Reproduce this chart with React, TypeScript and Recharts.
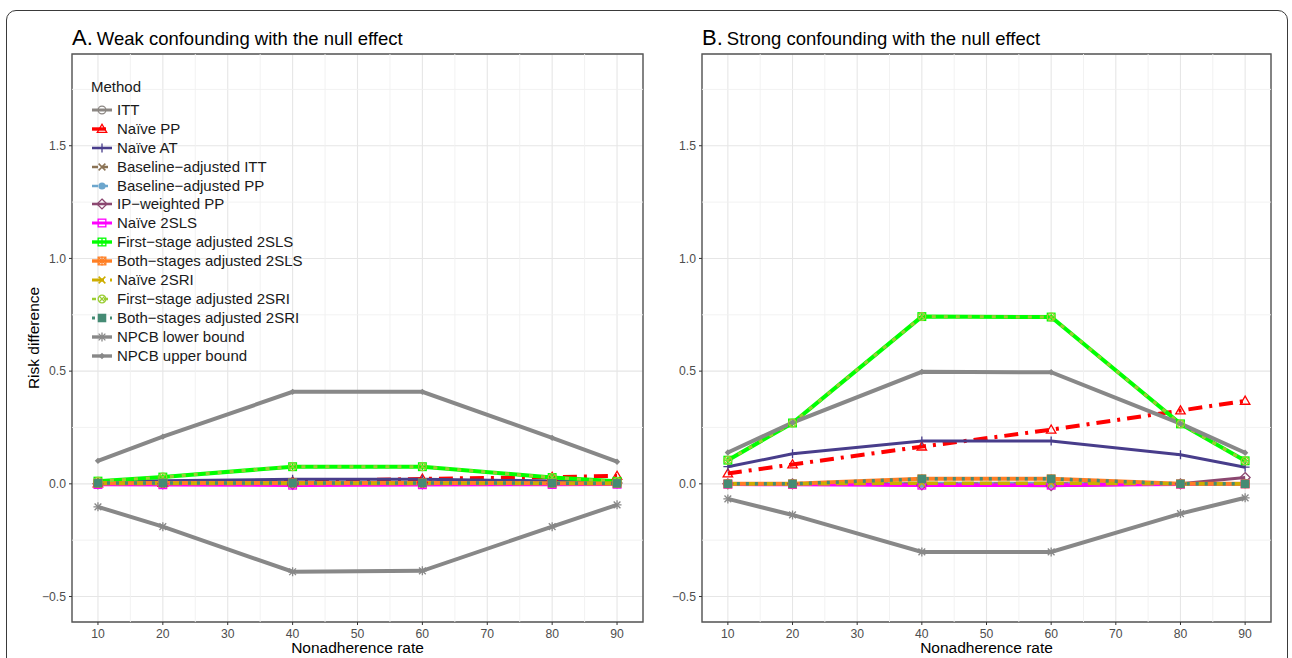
import React from "react";
import { LineChart, Line, XAxis, YAxis, CartesianGrid, ReferenceArea, ReferenceLine, Legend } from "recharts";

const FONT = '"Liberation Sans", Arial, Helvetica, sans-serif';

const rates = [10, 20, 40, 60, 80, 90];
const xTicks = [10, 20, 30, 40, 50, 60, 70, 80, 90];
const xMinor = [15, 25, 35, 45, 55, 65, 75, 85];
const yTicks = [-0.5, 0, 0.5, 1, 1.5];
const yMinor = [-0.25, 0.25, 0.75, 1.25, 1.75];
const X_DOMAIN: [number, number] = [6, 94];
const Y_DOMAIN: [number, number] = [-0.613, 1.907];

const methods = [
  "ITT",
  "Naïve PP",
  "Naïve AT",
  "Baseline\u2212adjusted ITT",
  "Baseline\u2212adjusted PP",
  "IP\u2212weighted PP",
  "Naïve 2SLS",
  "First\u2212stage adjusted 2SLS",
  "Both\u2212stages adjusted 2SLS",
  "Naïve 2SRI",
  "First\u2212stage adjusted 2SRI",
  "Both\u2212stages adjusted 2SRI",
  "NPCB lower bound",
  "NPCB upper bound",
];

// A. weak confounding
const weakItt = [0.0, 0.001, 0.002, 0.003, 0.002, 0.001];
const weakNaivePP = [0.002, 0.004, 0.01, 0.022, 0.03, 0.035];
const weakNaiveAT = [0.01, 0.014, 0.02, 0.02, 0.013, 0.006];
const weakBaseItt = [0.0, 0.001, 0.002, 0.002, 0.001, 0.0];
const weakBasePP = [0.001, 0.002, 0.003, 0.004, 0.003, 0.002];
const weakIpwPP = [0.0, 0.0, -0.002, 0.0, 0.002, 0.004];
const weakNaive2sls = [-0.003, -0.004, -0.006, -0.004, -0.003, -0.002];
const weakFirst2sls = [0.012, 0.03, 0.076, 0.076, 0.028, 0.011];
const weakBoth2sls = [0.003, 0.004, 0.004, 0.004, 0.003, 0.002];
const weakNaive2sri = [0.001, 0.002, 0.002, 0.002, 0.002, 0.001];
const weakFirst2sri = [0.012, 0.03, 0.076, 0.076, 0.028, 0.011];
const weakBoth2sri = [0.003, 0.004, 0.004, 0.004, 0.003, 0.002];
const weakLower = [-0.102, -0.19, -0.39, -0.386, -0.19, -0.093];
const weakUpper = [0.102, 0.209, 0.408, 0.408, 0.204, 0.098];

// B. strong confounding
const strongItt = [0.0, 0.0, 0.002, 0.002, 0.0, 0.0];
const strongNaivePP = [0.046, 0.086, 0.165, 0.24, 0.325, 0.368];
const strongNaiveAT = [0.076, 0.133, 0.19, 0.19, 0.129, 0.074];
const strongBaseItt = [0.0, 0.0, 0.001, 0.001, 0.0, 0.0];
const strongBasePP = [0.0, 0.0, 0.002, 0.002, 0.0, 0.0];
const strongIpwPP = [0.0, 0.0, -0.005, -0.008, 0.0, 0.028];
const strongNaive2sls = [-0.002, -0.003, -0.006, -0.006, -0.002, 0.0];
const strongFirst2sls = [0.105, 0.27, 0.742, 0.74, 0.266, 0.102];
const strongBoth2sls = [0.0, 0.0, 0.022, 0.022, 0.0, 0.0];
const strongNaive2sri = [0.0, 0.0, 0.003, 0.003, 0.0, 0.0];
const strongFirst2sri = [0.105, 0.27, 0.742, 0.74, 0.266, 0.102];
const strongBoth2sri = [0.0, 0.0, 0.022, 0.022, 0.0, 0.0];
const strongLower = [-0.067, -0.138, -0.302, -0.302, -0.132, -0.062];
const strongUpper = [0.139, 0.272, 0.497, 0.495, 0.267, 0.138];

const weakValues = [
  weakItt, weakNaivePP, weakNaiveAT, weakBaseItt, weakBasePP, weakIpwPP, weakNaive2sls,
  weakFirst2sls, weakBoth2sls, weakNaive2sri, weakFirst2sri, weakBoth2sri, weakLower, weakUpper,
];
const strongValues = [
  strongItt, strongNaivePP, strongNaiveAT, strongBaseItt, strongBasePP, strongIpwPP, strongNaive2sls,
  strongFirst2sls, strongBoth2sls, strongNaive2sri, strongFirst2sri, strongBoth2sri, strongLower, strongUpper,
];

type Shape =
  | "circleOpen" | "triangleOpen" | "plus" | "cross" | "circleFilled" | "diamondOpen"
  | "squareOpen" | "squarePlus" | "squareStar" | "circleCross" | "squareFilled"
  | "asterisk" | "diamondFilled";

const styles: { color: string; width: number; dash?: string; shape: Shape }[] = [
  { color: "#8b8682", width: 3.5, shape: "circleOpen" },
  { color: "#ff0000", width: 4, dash: "14 7 3 7", shape: "triangleOpen" },
  { color: "#483d8b", width: 3, shape: "plus" },
  { color: "#8b7355", width: 3, dash: "6 4", shape: "cross" },
  { color: "#6ca6cd", width: 3, dash: "6 4", shape: "circleFilled" },
  { color: "#8b4770", width: 3, shape: "diamondOpen" },
  { color: "#ff00ff", width: 3.5, shape: "squareOpen" },
  { color: "#00ff00", width: 4, shape: "squarePlus" },
  { color: "#ff7f24", width: 4, shape: "squareStar" },
  { color: "#cdad00", width: 3.5, dash: "12 6", shape: "cross" },
  { color: "#9acd32", width: 3, dash: "4 8", shape: "circleCross" },
  { color: "#458b74", width: 3.5, dash: "3 6", shape: "squareFilled" },
  { color: "#888888", width: 4, shape: "asterisk" },
  { color: "#888888", width: 4, shape: "diamondFilled" },
];

function buildRows(values: number[][]) {
  return rates.map((rate, i) => {
    const row: Record<string, number> = { rate };
    values.forEach((series, k) => {
      row[`m${k}`] = series[i];
    });
    return row;
  });
}

const weakRows = buildRows(weakValues);
const strongRows = buildRows(strongValues);

function Marker({ shape, x, y, color, s }: { shape: Shape; x: number; y: number; color: string; s: number }) {
  const h = s / 2;
  const sw = 1.3;
  const plusPath = `M${x - h},${y}H${x + h}M${x},${y - h}V${y + h}`;
  const crossR = h * 0.75;
  const crossPath = `M${x - crossR},${y - crossR}L${x + crossR},${y + crossR}M${x - crossR},${y + crossR}L${x + crossR},${y - crossR}`;
  switch (shape) {
    case "circleOpen":
      return <circle cx={x} cy={y} r={h * 0.85} fill="none" stroke={color} strokeWidth={sw} />;
    case "triangleOpen":
      return (
        <polygon
          points={`${x},${y - h * 1.05} ${x - h * 1.05},${y + h * 0.75} ${x + h * 1.05},${y + h * 0.75}`}
          fill="none"
          stroke={color}
          strokeWidth={sw}
        />
      );
    case "plus":
      return <path d={plusPath} stroke={color} strokeWidth={sw} fill="none" />;
    case "cross":
      return <path d={crossPath} stroke={color} strokeWidth={sw + 0.2} fill="none" />;
    case "circleFilled":
      return <circle cx={x} cy={y} r={h * 0.8} fill={color} />;
    case "diamondOpen":
      return (
        <polygon
          points={`${x},${y - h * 1.1} ${x + h * 1.1},${y} ${x},${y + h * 1.1} ${x - h * 1.1},${y}`}
          fill="none"
          stroke={color}
          strokeWidth={sw}
        />
      );
    case "squareOpen":
      return <rect x={x - h * 0.85} y={y - h * 0.85} width={h * 1.7} height={h * 1.7} fill="none" stroke={color} strokeWidth={sw} />;
    case "squarePlus":
      return (
        <g>
          <rect x={x - h * 0.85} y={y - h * 0.85} width={h * 1.7} height={h * 1.7} fill="none" stroke={color} strokeWidth={sw} />
          <path d={`M${x - h * 0.85},${y}H${x + h * 0.85}M${x},${y - h * 0.85}V${y + h * 0.85}`} stroke={color} strokeWidth={sw} />
        </g>
      );
    case "squareStar":
      return (
        <g>
          <rect x={x - h * 0.85} y={y - h * 0.85} width={h * 1.7} height={h * 1.7} fill="none" stroke={color} strokeWidth={sw} />
          <path d={plusPath} stroke={color} strokeWidth={sw} />
          <path d={crossPath} stroke={color} strokeWidth={sw} />
        </g>
      );
    case "circleCross":
      return (
        <g>
          <circle cx={x} cy={y} r={h * 0.85} fill="none" stroke={color} strokeWidth={sw} />
          <path
            d={`M${x - h * 0.6},${y - h * 0.6}L${x + h * 0.6},${y + h * 0.6}M${x - h * 0.6},${y + h * 0.6}L${x + h * 0.6},${y - h * 0.6}`}
            stroke={color}
            strokeWidth={sw}
          />
        </g>
      );
    case "squareFilled":
      return <rect x={x - h * 0.95} y={y - h * 0.95} width={h * 1.9} height={h * 1.9} fill={color} />;
    case "asterisk":
      return (
        <g>
          <path d={plusPath} stroke={color} strokeWidth={sw} />
          <path d={crossPath} stroke={color} strokeWidth={sw} />
        </g>
      );
    case "diamondFilled":
      return (
        <polygon points={`${x},${y - h * 0.7} ${x + h * 0.7},${y} ${x},${y + h * 0.7} ${x - h * 0.7},${y}`} fill={color} />
      );
    default:
      return null;
  }
}

function MethodLegend() {
  return (
    <div style={{ fontFamily: FONT, color: "#1a1a1a" }}>
      <div style={{ fontSize: 15, lineHeight: "18px", height: 18, marginLeft: 1, marginBottom: 4.5 }}>Method</div>
      {methods.map((name, k) => {
        const st = styles[k];
        return (
          <div key={name} style={{ display: "flex", alignItems: "center", height: 18.9 }}>
            <svg width={24} height={18} style={{ display: "block" }}>
              <line x1={2} x2={22} y1={9} y2={9} stroke={st.color} strokeWidth={st.width * 0.85} strokeDasharray={st.dash} />
              <Marker shape={st.shape} x={12} y={9} color={st.color} s={9} />
            </svg>
            <span style={{ marginLeft: 3, fontSize: 15, lineHeight: "18px", whiteSpace: "nowrap" }}>{name}</span>
          </div>
        );
      })}
    </div>
  );
}

const fmtTick = (v: number) => (v < 0 ? "\u2212" : "") + Math.abs(v).toFixed(1);

function Panel({ rows, width, showYLabel, legend }: { rows: Record<string, number>[]; width: number; showYLabel: boolean; legend: boolean }) {
  const tickStyle = { fill: "#4d4d4d", fontSize: 12.2, fontFamily: FONT };
  return (
    <LineChart
      width={width}
      height={658}
      data={rows}
      margin={{ top: 54, right: 7, bottom: 0, left: showYLabel ? 20 : 0 }}
      style={{ fontFamily: FONT }}
    >
      <CartesianGrid stroke="#e6e6e6" strokeWidth={1.1} />
      {xMinor.map((v) => (
        <ReferenceLine key={`xm${v}`} x={v} stroke="#f1f1f1" strokeWidth={0.9} />
      ))}
      {yMinor.map((v) => (
        <ReferenceLine key={`ym${v}`} y={v} stroke="#f1f1f1" strokeWidth={0.9} />
      ))}
      <XAxis
        dataKey="rate"
        type="number"
        domain={X_DOMAIN}
        ticks={xTicks}
        allowDataOverflow
        height={36}
        tickSize={3}
        tickMargin={4}
        tick={tickStyle}
        tickLine={{ stroke: "#333333" }}
        axisLine={false}
        label={{ value: "Nonadherence rate", position: "insideBottom", offset: 5, fill: "#000", fontSize: 15.5, fontFamily: FONT }}
      />
      <YAxis
        type="number"
        domain={Y_DOMAIN}
        ticks={yTicks}
        allowDataOverflow
        width={52}
        tickSize={3}
        tickMargin={3}
        tick={tickStyle}
        tickLine={{ stroke: "#333333" }}
        axisLine={false}
        tickFormatter={fmtTick}
        label={
          showYLabel
            ? { value: "Risk difference", angle: -90, position: "insideLeft", offset: 13, fill: "#000", fontSize: 15.5, fontFamily: FONT, style: { textAnchor: "middle" } }
            : undefined
        }
      />
      {methods.map((name, k) => {
        const st = styles[k];
        return (
          <Line
            key={name}
            name={name}
            type="linear"
            dataKey={`m${k}`}
            stroke={st.color}
            strokeWidth={st.width}
            strokeDasharray={st.dash}
            strokeLinecap="butt"
            activeDot={false}
            isAnimationActive={false}
            dot={(p: any) => <Marker key={`${name}-${p.index}`} shape={st.shape} x={p.cx} y={p.cy} color={st.color} s={9} />}
          />
        );
      })}
      <ReferenceArea
        x1={X_DOMAIN[0]}
        x2={X_DOMAIN[1]}
        y1={Y_DOMAIN[0]}
        y2={Y_DOMAIN[1]}
        fill="none"
        fillOpacity={0}
        stroke="#555555"
        strokeWidth={1.4}
        ifOverflow="visible"
      />
      {legend && (
        <Legend
          layout="vertical"
          align="center"
          verticalAlign="middle"
          content={<MethodLegend />}
          wrapperStyle={{ left: 90, top: 78, width: 260 }}
        />
      )}
    </LineChart>
  );
}

function Title({ x, letter, text }: { x: number; letter: string; text: string }) {
  return (
    <text x={x} y={45} fontFamily={FONT} fill="#000">
      <tspan fontSize={22}>{letter}</tspan>
      <tspan fontSize={18.5} dx={4}>{text}</tspan>
    </text>
  );
}

export default function App() {
  return (
    <div style={{ position: "absolute", left: 0, top: 0, width: 1292, height: 658, overflow: "hidden", background: "#fff" }}>
      <div
        style={{
          position: "absolute",
          left: 6,
          top: 10,
          width: 1282,
          height: 700,
          border: "1.3px solid #3a3a3a",
          borderRadius: 10,
          boxSizing: "border-box",
        }}
      />
      <div style={{ position: "absolute", left: 0, top: 0 }}>
        <Panel rows={weakRows} width={650} showYLabel legend />
      </div>
      <div style={{ position: "absolute", left: 650, top: 0 }}>
        <Panel rows={strongRows} width={628} showYLabel={false} legend={false} />
      </div>
      <svg width={1292} height={60} style={{ position: "absolute", left: 0, top: 0, pointerEvents: "none" }}>
        <Title x={72} letter="A." text="Weak confounding with the null effect" />
        <Title x={702} letter="B." text="Strong confounding with the null effect" />
      </svg>
    </div>
  );
}
